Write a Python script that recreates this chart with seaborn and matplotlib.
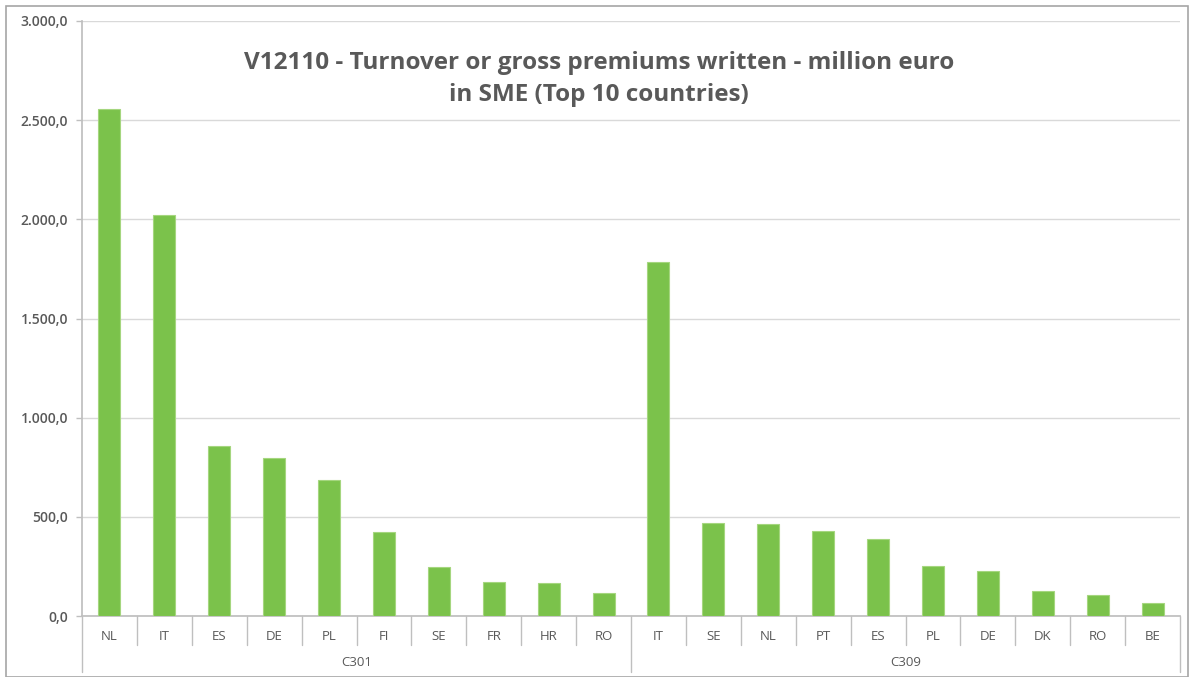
import numpy as np
import pandas as pd
import matplotlib
matplotlib.use("Agg")
import matplotlib.pyplot as plt
import matplotlib.transforms as mtransforms
from matplotlib.patches import Rectangle
from matplotlib.ticker import FuncFormatter
import seaborn as sns

# Data
groups = ["C301", "C309"]
c301_countries = ["NL", "IT", "ES", "DE", "PL", "FI", "SE", "FR", "HR", "RO"]
c301_values = [2557, 2022, 857, 797, 688, 425, 248, 171, 166, 116]
c309_countries = ["IT", "SE", "NL", "PT", "ES", "PL", "DE", "DK", "RO", "BE"]
c309_values = [1785, 467, 463, 428, 388, 254, 228, 126, 104, 67]

title = "V12110 - Turnover or gross premiums written - million euro\nin SME (Top 10 countries)"

GREEN = "#7BC24B"
GREY_TXT = "#595959"
GRID = "#D9D9D9"
AXIS = "#BFBFBF"

df = pd.DataFrame({
    "group": [groups[0]] * len(c301_countries) + [groups[1]] * len(c309_countries),
    "country": c301_countries + c309_countries,
    "value": c301_values + c309_values,
})
df["slot"] = df["group"] + "-" + df["country"]

sns.set_theme(style="white")
plt.rcParams["font.family"] = ["Open Sans", "DejaVu Sans"]

fig = plt.figure(figsize=(11.92, 6.77), dpi=100)
ax = fig.add_axes([82 / 1192, 1 - 616 / 677, 1098 / 1192, 595 / 677])

sns.barplot(data=df, x="slot", y="value", color=GREEN, saturation=1, width=0.4,
            edgecolor="#A5D67F", linewidth=0.8, ax=ax, zorder=3)

ax.set_ylim(0, 3000)
ax.set_xlim(-0.5, len(df) - 0.5)
ax.set_yticks(np.arange(0, 3001, 500))
ax.yaxis.set_major_formatter(FuncFormatter(
    lambda v, p: f"{v:,.1f}".replace(",", "X").replace(".", ",").replace("X", ".")))
ax.grid(axis="y", color=GRID, linewidth=1, zorder=0)
ax.set_axisbelow(True)

ax.set_xticks(range(len(df)))
ax.set_xticklabels(df["country"], color=GREY_TXT, fontsize=9.5)
ax.tick_params(axis="x", length=0, pad=10)
ax.tick_params(axis="y", colors=AXIS, length=4, width=1, labelcolor=GREY_TXT,
               labelsize=10, pad=6, left=True, direction="out")
for lbl in ax.get_yticklabels():
    lbl.set_fontweight("semibold")
ax.set_xlabel("")
ax.set_ylabel("")

for side in ["top", "right"]:
    ax.spines[side].set_visible(False)
ax.spines["left"].set_color(AXIS)
ax.spines["bottom"].set_color(AXIS)

# multi-level category axis separators
trans = mtransforms.blended_transform_factory(ax.transData, ax.transAxes)
n = len(df)
for i in range(n + 1):
    x = i - 0.5
    if i in (0, len(c301_countries), n):
        y_end = -0.094
    else:
        y_end = -0.049
    ax.plot([x, x], [0, y_end], transform=trans, color=AXIS, lw=1, clip_on=False)

centers = [(len(c301_countries) - 1) / 2, len(c301_countries) + (len(c309_countries) - 1) / 2]
for g, cx in zip(groups, centers):
    ax.text(cx, -0.078, g, transform=trans, ha="center", va="center",
            color=GREY_TXT, fontsize=9.5)

fig.text(599 / 1192, 1 - 79 / 677, title, ha="center", va="center",
         fontsize=17.5, fontweight="bold", color=GREY_TXT, linespacing=1.4)

# outer chart border
fig.patches.append(Rectangle((6 / 1192, 0), 1182 / 1192, 1 - 6 / 677,
                             transform=fig.transFigure, fill=False,
                             edgecolor="#A6A6A6", linewidth=1.2))

fig.savefig("out.png", dpi=100, facecolor="white")
